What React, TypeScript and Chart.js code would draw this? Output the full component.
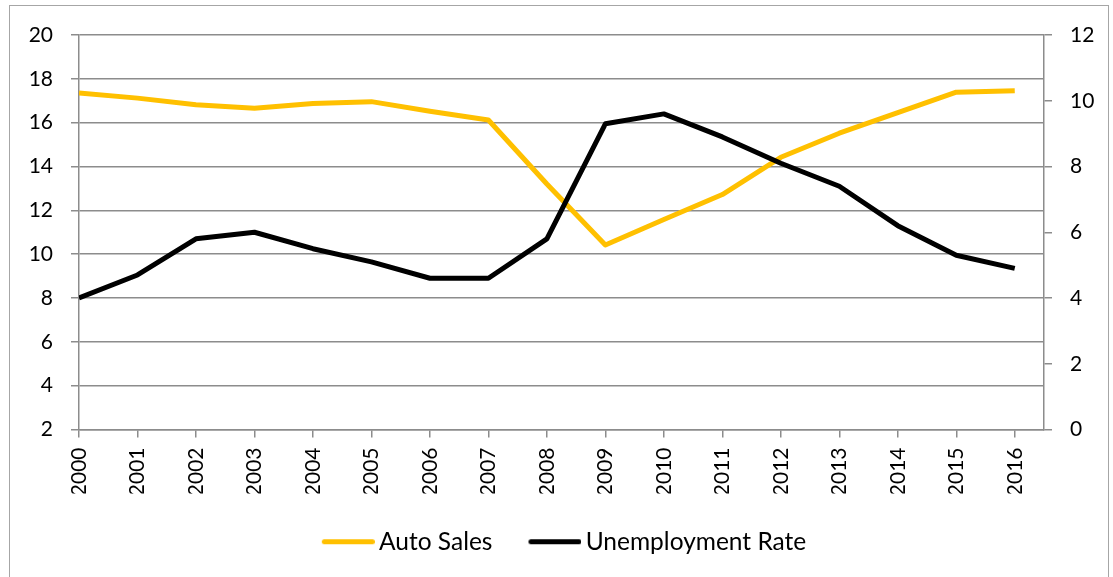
import React, { useEffect, useRef } from "react";
import { Chart, registerables } from "chart.js";

Chart.register(...registerables);

const years = [2000, 2001, 2002, 2003, 2004, 2005, 2006, 2007, 2008, 2009, 2010, 2011, 2012, 2013, 2014, 2015, 2016];
const autoSales = [17.35, 17.12, 16.82, 16.66, 16.87, 16.96, 16.52, 16.12, 13.2, 10.42, 11.58, 12.72, 14.42, 15.52, 16.46, 17.39, 17.46];
const unemploymentRate = [4.0, 4.7, 5.8, 6.0, 5.5, 5.1, 4.6, 4.6, 5.8, 9.3, 9.6, 8.9, 8.1, 7.4, 6.2, 5.3, 4.9];
const seriesNames = ["Auto Sales", "Unemployment Rate"];
const seriesColors = ["#FFC000", "#000000"];

const GRID = "#8c8c8c";
const FONT = "Lato";

function makeLegendLine(color: string): HTMLCanvasElement {
  const c = document.createElement("canvas");
  c.width = 61;
  c.height = 7;
  const g = c.getContext("2d")!;
  g.strokeStyle = color;
  g.lineWidth = 5;
  g.lineCap = "round";
  g.beginPath();
  g.moveTo(10.5, 3.5);
  g.lineTo(58.5, 3.5);
  g.stroke();
  return c;
}

export default function App() {
  const ref = useRef<HTMLCanvasElement>(null);

  useEffect(() => {
    if (!ref.current) return;
    const imgs = seriesColors.map(makeLegendLine);
    const chart = new Chart(ref.current, {
      type: "line",
      data: {
        datasets: [
          {
            label: seriesNames[0],
            data: years.map((y, i) => ({ x: y, y: autoSales[i] })),
            borderColor: seriesColors[0],
            backgroundColor: seriesColors[0],
            borderWidth: 5,
            pointRadius: 0,
            tension: 0,
            borderJoinStyle: "round",
            yAxisID: "y",
            order: 1,
          },
          {
            label: seriesNames[1],
            data: years.map((y, i) => ({ x: y, y: unemploymentRate[i] })),
            borderColor: seriesColors[1],
            backgroundColor: seriesColors[1],
            borderWidth: 5,
            pointRadius: 0,
            tension: 0,
            borderJoinStyle: "round",
            yAxisID: "y1",
            order: 0,
          },
        ],
      },
      options: {
        animation: false,
        responsive: false,
        maintainAspectRatio: false,
        layout: { padding: { left: 25, right: 10, top: 35, bottom: 13 } },
        plugins: {
          tooltip: { enabled: false },
          legend: {
            position: "bottom",
            labels: {
              usePointStyle: true,
              pointStyleWidth: 45,
              padding: 36,
              color: "#000000",
              font: { family: FONT, size: 24.5 },
              sort: (a: any, b: any) => a.datasetIndex - b.datasetIndex,
              generateLabels: (ch: any) => {
                const items = (Chart.defaults.plugins.legend.labels as any).generateLabels(ch);
                return items.map((it: any) => ({ ...it, pointStyle: imgs[it.datasetIndex] }));
              },
            },
          },
        },
        scales: {
          x: {
            type: "linear",
            min: 2000,
            max: 2016.5,
            afterFit: (s: any) => {
              s.height = 64;
            },
            ticks: {
              stepSize: 1,
              includeBounds: false,
              autoSkip: false,
              minRotation: 90,
              maxRotation: 90,
              padding: 10,
              color: "#000000",
              font: { family: FONT, size: 21 },
              callback: (v: any) => String(v),
            },
            grid: { drawOnChartArea: false, drawTicks: true, tickLength: 8, color: GRID, lineWidth: 1.5 },
            border: { display: true, color: GRID, width: 1.5 },
          },
          y: {
            position: "left",
            min: 2,
            max: 20,
            afterFit: (s: any) => {
              s.width = 54;
            },
            ticks: {
              stepSize: 2,
              padding: 18,
              color: "#000000",
              font: { family: FONT, size: 21 },
            },
            grid: { drawOnChartArea: true, drawTicks: true, tickLength: 8, color: GRID, lineWidth: 1.5 },
            border: { display: true, color: GRID, width: 1.5 },
          },
          y1: {
            position: "right",
            min: 0,
            max: 12,
            afterFit: (s: any) => {
              s.width = 59;
            },
            ticks: {
              stepSize: 2,
              padding: 18,
              color: "#000000",
              font: { family: FONT, size: 21 },
            },
            grid: { drawOnChartArea: false, drawTicks: true, tickLength: 8, color: GRID, lineWidth: 1.5 },
            border: { display: true, color: GRID, width: 1.5 },
          },
        },
      },
    } as any);
    return () => chart.destroy();
  }, []);

  return (
    <div
      style={{
        position: "fixed",
        left: 0,
        top: 0,
        width: 1113,
        height: 577,
        overflow: "hidden",
        background: "#ffffff",
      }}
    >
      <div
        style={{
          position: "absolute",
          left: 9,
          top: 5,
          width: 1100,
          height: 700,
          border: "1px solid #a6a6a6",
          boxSizing: "border-box",
        }}
      />
      <canvas
        ref={ref}
        width={1113}
        height={577}
        style={{ position: "absolute", left: 0, top: 0, display: "block" }}
      />
    </div>
  );
}
